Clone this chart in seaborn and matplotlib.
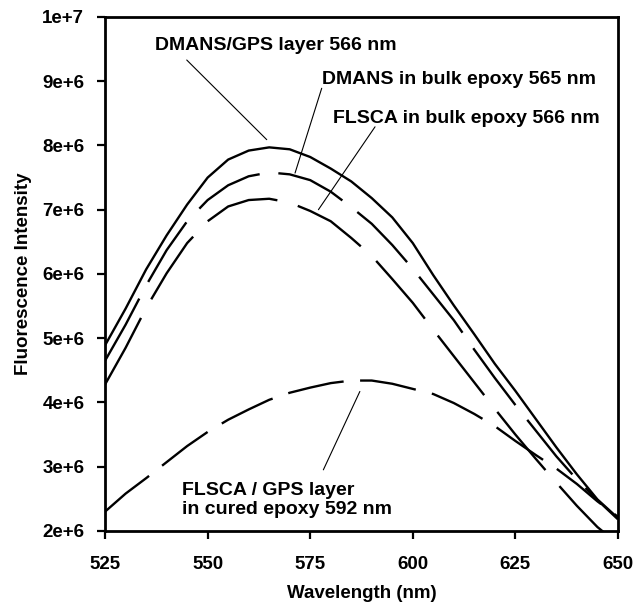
import seaborn as sns
import matplotlib.pyplot as plt
import pandas as pd

# Wavelength grid (nm) and intensities (x 1e6)
wavelength = [525, 530, 535, 540, 545, 550, 555, 560, 565, 570, 575, 580, 585,
              590, 595, 600, 605, 610, 615, 620, 625, 630, 635, 640, 645, 650]

dmans_gps = [4.89, 5.46, 6.07, 6.60, 7.08, 7.50, 7.78, 7.92, 7.97, 7.94, 7.82, 7.64, 7.44,
             7.18, 6.88, 6.48, 5.98, 5.51, 5.06, 4.60, 4.18, 3.74, 3.30, 2.88, 2.49, 2.20]
dmans_bulk = [4.65, 5.21, 5.82, 6.37, 6.82, 7.15, 7.38, 7.52, 7.58, 7.55, 7.46, 7.28, 7.04,
              6.78, 6.45, 6.08, 5.68, 5.28, 4.82, 4.38, 3.96, 3.56, 3.16, 2.80, 2.48, 2.18]
flsca_bulk = [4.28, 4.85, 5.47, 6.01, 6.48, 6.82, 7.05, 7.15, 7.17, 7.11, 6.98, 6.82, 6.56,
              6.28, 5.92, 5.55, 5.13, 4.72, 4.31, 3.90, 3.50, 3.12, 2.75, 2.39, 2.06, 1.80]
flsca_gps = [2.30, 2.58, 2.82, 3.07, 3.32, 3.54, 3.73, 3.89, 4.04, 4.15, 4.23, 4.30, 4.34,
             4.34, 4.29, 4.21, 4.13, 3.99, 3.82, 3.63, 3.40, 3.18, 2.97, 2.73, 2.46, 2.22]

series_names = ["DMANS/GPS layer", "DMANS in bulk", "FLSCA in bulk", "FLSCA/GPS layer"]

y_ticks = [2e6, 3e6, 4e6, 5e6, 6e6, 7e6, 8e6, 9e6, 1e7]
y_tick_labels = ["2e+6", "3e+6", "4e+6", "5e+6", "6e+6", "7e+6", "8e+6", "9e+6", "1e+7"]
x_ticks = [525, 550, 575, 600, 625, 650]

rows = []
for name, vals in zip(series_names, [dmans_gps, dmans_bulk, flsca_bulk, flsca_gps]):
    for w, v in zip(wavelength, vals):
        rows.append({"Wavelength": w, "Intensity": v * 1e6, "Sample": name})
df = pd.DataFrame(rows)

sns.set_style("ticks")
plt.rcParams['font.family'] = ['Liberation Sans', 'DejaVu Sans']
plt.rcParams['font.weight'] = 'bold'
for k in ['text.color', 'axes.labelcolor', 'xtick.color', 'ytick.color', 'axes.edgecolor']:
    plt.rcParams[k] = 'black'

fig = plt.figure(figsize=(6.37, 6.06), dpi=100)
ax = fig.add_axes([0.165, 0.124, 0.805, 0.848])

sns.lineplot(data=df, x="Wavelength", y="Intensity", hue="Sample", style="Sample",
             palette=["black"] * 4,
             dashes={"DMANS/GPS layer": "", "DMANS in bulk": (30, 8),
                     "FLSCA in bulk": (32, 9), "FLSCA/GPS layer": (24, 7)},
             linewidth=1.7, legend=False, ax=ax)

ax.set_xlim(525, 650)
ax.set_ylim(2e6, 1e7)
ax.set_xticks(x_ticks)
ax.set_xticklabels([str(t) for t in x_ticks])
ax.set_yticks(y_ticks)
ax.set_yticklabels(y_tick_labels)
ax.tick_params(axis="both", direction="out", length=6, width=1.6, labelsize=13.5)
ax.tick_params(axis="x", pad=12)
ax.tick_params(axis="y", pad=9)
for s in ax.spines.values():
    s.set_linewidth(2)
    s.set_visible(True)

ax.set_xlabel("Wavelength (nm)", fontsize=13.5, fontweight="bold", labelpad=9)
ax.set_ylabel("Fluorescence Intensity", fontsize=13.5, fontweight="bold", labelpad=7)

txt = dict(fontsize=14, fontweight="bold", ha="left", va="center")
ax.text(537.2, 9.55e6, "DMANS/GPS layer 566 nm", **txt)
ax.text(577.8, 9.02e6, "DMANS in bulk epoxy 565 nm", **txt)
ax.text(580.6, 8.42e6, "FLSCA in bulk epoxy 566 nm", **txt)
ax.text(543.7, 2.48e6, "FLSCA / GPS layer\nin cured epoxy 592 nm", linespacing=1.15, **txt)

# leader lines
lead = dict(color="black", linewidth=0.8)
ax.plot([544.9, 564.4], [9.33e6, 8.09e6], **lead)
ax.plot([577.8, 571.3], [8.89e6, 7.57e6], **lead)
ax.plot([590.8, 577.0], [8.29e6, 7.0e6], **lead)
ax.plot([578.2, 587.1], [2.95e6, 4.17e6], **lead)

fig.savefig("out.png", dpi=100)
